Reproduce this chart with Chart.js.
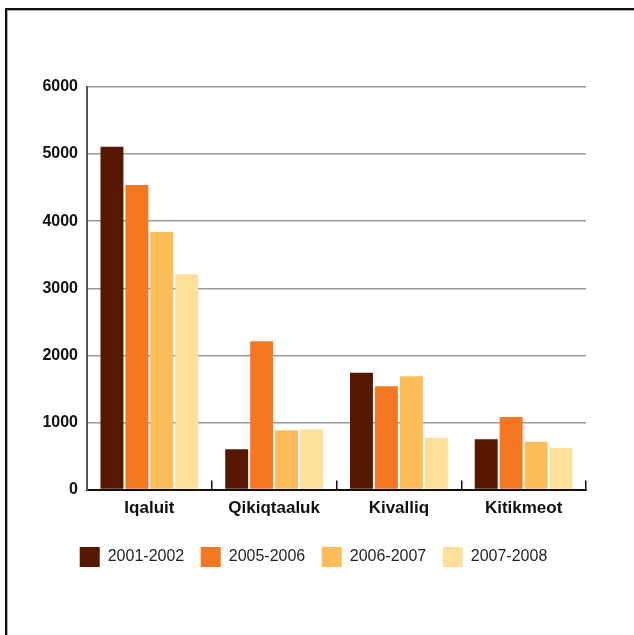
<!DOCTYPE html>
<html>
<head>
<meta charset="utf-8">
<script src="https://cdn.jsdelivr.net/npm/chart.js@4.4.1/dist/chart.umd.min.js"></script>
<style>
    html, body { margin: 0; padding: 0; background: #fff; overflow: hidden; }
    #frame {
        position: absolute; left: 5px; top: 8px; width: 700px; height: 700px;
        border-left: 2px solid #111; border-top: 2px solid #111;
        box-shadow: inset 1px 1px 0 #b0b0b0;
    }
    #completionChart { position: absolute; left: 0; top: 0; }
</style>
</head>
<body>
<div id="frame"></div>
<canvas id="completionChart" width="634" height="635"></canvas>
<script>
const regions = ['Iqaluit', 'Qikiqtaaluk', 'Kivalliq', 'Kitikmeot'];
const seriesLabels = ['2001-2002', '2005-2006', '2006-2007', '2007-2008'];
const values2001 = [5110, 600, 1740, 750];
const values2005 = [4540, 2210, 1540, 1080];
const values2006 = [3840, 885, 1690, 710];
const values2007 = [3210, 900, 770, 620];
const yTicks = [0, 1000, 2000, 3000, 4000, 5000, 6000];

const seriesColors = ['#561900', '#F47722', '#FDBE5A', '#FEE09A'];
const FONT = "'Liberation Sans Narrow', 'Liberation Sans', Arial, sans-serif";

document.addEventListener('DOMContentLoaded', () => {
    const ctx = document.getElementById('completionChart').getContext('2d');
    const allValues = [values2001, values2005, values2006, values2007];

    const datasets = seriesLabels.map((label, i) => ({
        label: label,
        data: allValues[i],
        backgroundColor: seriesColors[i],
        borderWidth: 0,
        categoryPercentage: 0.8,
        barPercentage: 0.92,
    }));

    new Chart(ctx, {
        type: 'bar',
        data: { labels: regions, datasets: datasets },
        options: {
            responsive: false,
            animation: false,
            layout: { padding: { left: 41, right: 48, top: 87, bottom: 58 } },
            plugins: {
                legend: {
                    position: 'bottom',
                    labels: {
                        boxWidth: 20,
                        boxHeight: 20,
                        padding: 16.5,
                        color: '#231f20',
                        font: { family: FONT, size: 16 },
                    },
                },
                tooltip: { enabled: false },
            },
            scales: {
                x: {
                    afterFit: (scale) => { scale.height = 41; },
                    grid: {
                        offset: true,
                        drawOnChartArea: false,
                        drawTicks: true,
                        tickLength: -9,
                        color: '#111',
                        lineWidth: 1.5,
                    },
                    border: { color: '#111', width: 2 },
                    ticks: {
                        padding: 18,
                        color: '#111',
                        font: { family: FONT, size: 17, weight: 'bold' },
                    },
                },
                y: {
                    min: 0,
                    max: 6000,
                    afterFit: (scale) => { scale.width = 46; },
                    afterBuildTicks: (scale) => {
                        scale.ticks = yTicks.map(v => ({ value: v }));
                    },
                    grid: {
                        drawTicks: false,
                        color: '#9a9a9a',
                        lineWidth: 1.5,
                    },
                    border: { color: '#555', width: 2 },
                    ticks: {
                        padding: 9,
                        color: '#111',
                        font: { family: FONT, size: 16, weight: 'bold' },
                        callback: (value) => String(value),
                    },
                },
            },
        },
    });
});
</script>
</body>
</html>
